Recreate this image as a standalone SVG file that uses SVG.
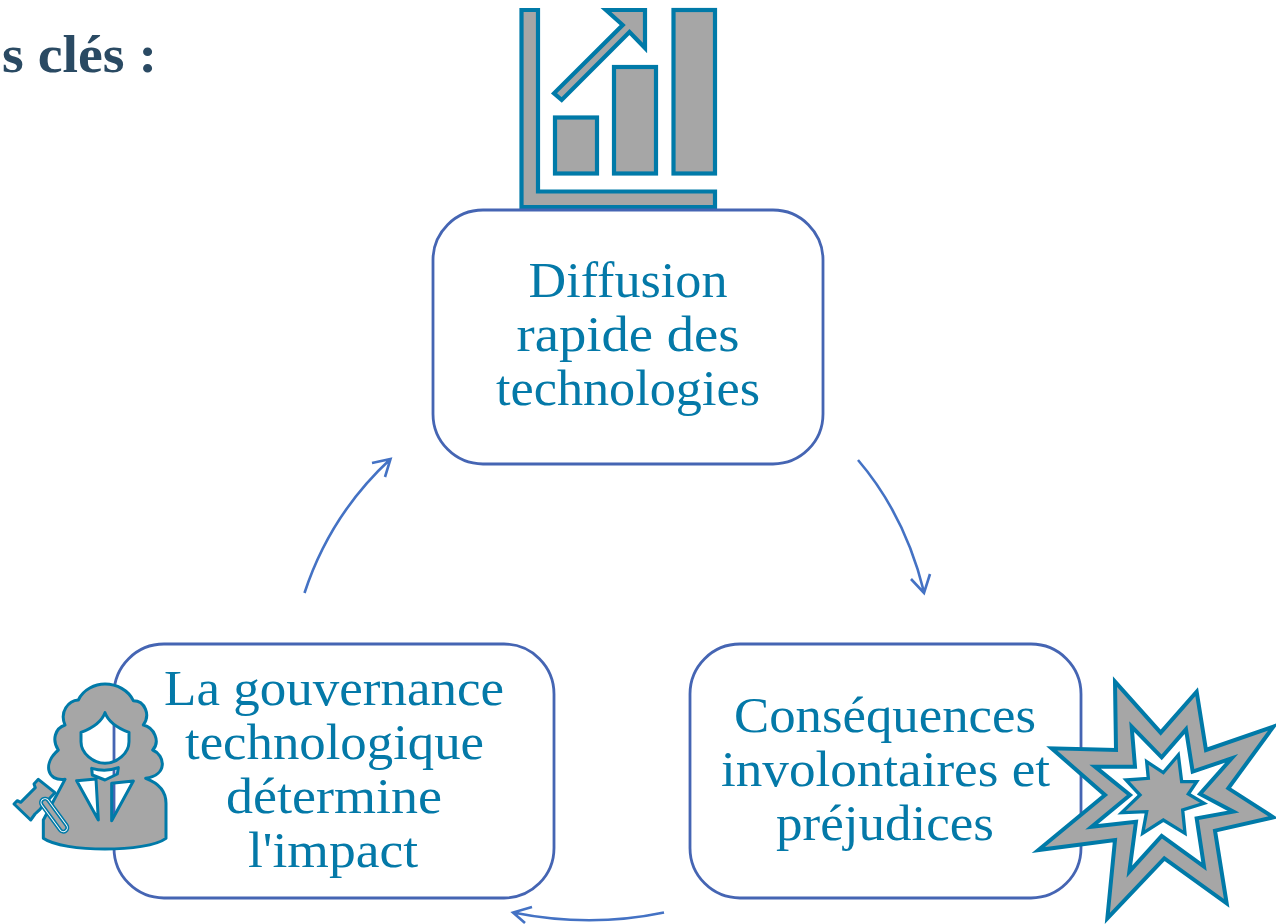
<svg xmlns="http://www.w3.org/2000/svg" width="1276" height="924" viewBox="0 0 1276 924">
<style>
.box{fill:#fff;stroke:#4565b3;stroke-width:2.8}
.t{font-family:"Liberation Serif",serif;font-size:51px;fill:#0479a8;text-anchor:middle}
.ic{fill:#a6a6a6;stroke:#007aa8;stroke-width:4.200;stroke-linejoin:miter}
.ic2{fill:#a6a6a6;stroke:#007aa8;stroke-width:9;stroke-linejoin:round}
.c{fill:none;stroke:#4472c4;stroke-width:2.600}
</style>
<rect width="1276" height="924" fill="#fff"/>
<text x="2" y="72" font-family="Liberation Serif,serif" font-weight="bold" font-size="52px" fill="#2a4a63" textLength="155" lengthAdjust="spacingAndGlyphs">s clés :</text>
<g id="connectors">
<path class="c" d="M858 460Q905 515 924 592M911 579L924 593L930 574"/>
<path class="c" d="M664 912.500Q590 928 513 912.500M532 907L513 912.500L525 923"/>
<path class="c" d="M304.500 593Q330 515 390.500 459M372 463L390.500 459L385 477"/>
</g>
<g id="chart-icon">
<path class="ic" d="M521.500 10H538V191.500H715V207H521.500Z"/>
<rect class="ic" x="555" y="117.500" width="42" height="56"/>
<rect class="ic" x="614" y="67" width="42" height="106.500"/>
<rect class="ic" x="673.500" y="10" width="41.500" height="163.500"/>
<path class="ic" d="M606 10H645V48L629.500 32L561.700 100L554 93.300L622.700 25Z"/>
</g>
<g id="node-top">
<rect class="box" x="433" y="210" width="390" height="254" rx="50"/>
<text class="t" x="628" y="297" textLength="199" lengthAdjust="spacingAndGlyphs">Diffusion</text>
<text class="t" x="628" y="351" textLength="223" lengthAdjust="spacingAndGlyphs">rapide des</text>
<text class="t" x="628" y="405" textLength="264" lengthAdjust="spacingAndGlyphs">technologies</text>
</g>
<g id="node-right">
<rect class="box" x="690" y="644" width="391" height="254" rx="50"/>
<text class="t" x="885" y="732" textLength="302" lengthAdjust="spacingAndGlyphs">Conséquences</text>
<text class="t" x="885.500" y="786" textLength="329" lengthAdjust="spacingAndGlyphs">involontaires et</text>
<text class="t" x="885" y="840" textLength="218" lengthAdjust="spacingAndGlyphs">préjudices</text>
</g>
<g id="node-left">
<rect class="box" x="114" y="644" width="440" height="254" rx="50"/>
<text class="t" x="334" y="705" textLength="340" lengthAdjust="spacingAndGlyphs">La gouvernance</text>
<text class="t" x="334.500" y="759" textLength="299" lengthAdjust="spacingAndGlyphs">technologique</text>
<text class="t" x="334" y="813" textLength="216" lengthAdjust="spacingAndGlyphs">détermine</text>
<text class="t" x="333" y="867" textLength="170" lengthAdjust="spacingAndGlyphs">l'impact</text>
</g>
<g id="judge-icon" transform="translate(0 670) scale(.33333)">
<path class="ic2" fill-rule="evenodd" d="M315 42C350 42 385 60 400 92C435 92 452 135 430 165C462 172 482 215 458 240C495 255 505 315 437 325C478 340 498 365 498 400V505C440 548 190 548 130 505V450L195 328C140 335 128 280 175 240C155 210 165 175 195 165C178 125 205 92 235 90C250 58 285 42 315 42ZM315 128C325 155 355 175 387 187V215C387 250 350 280 315 280C280 280 243 250 243 215V187C275 175 305 155 315 128ZM275 295C300 302 330 302 355 293L352 312L315 330L277 315ZM230 332L288 327L295 450ZM400 333L335 340V452Z"/>
<path class="ic2" d="M42 402L52 392L62 397L106 353L102 342L115 328L165 368L152 382L120 418L105 432L92 450Z"/>
<path d="M135 398L190 473" fill="none" stroke="#007aa8" stroke-width="36" stroke-linecap="round"/>
<path d="M135 398L190 473" fill="none" stroke="#fff" stroke-width="27" stroke-linecap="round"/>
<path d="M135 398L190 473" fill="none" stroke="#007aa8" stroke-width="21" stroke-linecap="round"/>
<path d="M135 398L190 473" fill="none" stroke="#a6a6a6" stroke-width="12" stroke-linecap="round"/>
</g>
<g id="star-icon" transform="translate(1030 670) scale(.33333)">
<path fill-rule="evenodd" fill="#a6a6a6" stroke="#007aa8" stroke-width="12" stroke-linejoin="miter" stroke-miterlimit="10" d="M255 35L392 188L500 65L528 240L730 170L595 355L730 442L555 482L590 700L403 565L232 745L255 510L25 540L225 375L65 235L258 240ZM305 170L395 262L468 178L488 305L605 265L510 372L610 425L500 445L522 590L395 498L298 605L318 455L185 470L300 375L195 290L315 290Z"/>
<path fill="#a6a6a6" stroke="#007aa8" stroke-width="10" stroke-miterlimit="10" d="M350 275L400 308L445 255L455 335L500 335L475 372L522 400L458 420L465 490L400 450L338 490L350 425L275 428L330 375L288 330L355 325Z"/>
</g>
</svg>
